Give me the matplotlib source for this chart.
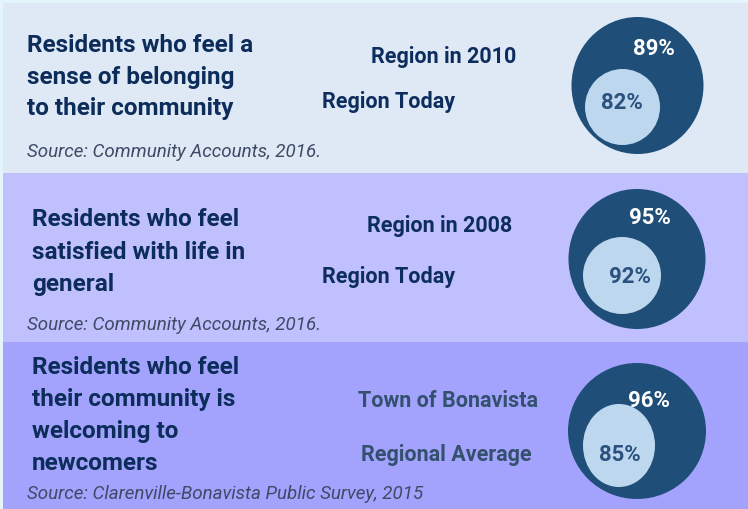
import matplotlib.pyplot as plt
from matplotlib.patches import Ellipse, Rectangle

# ---- data ----
titles = [
    "Residents who feel a\nsense of belonging\nto their community",
    "Residents who feel\nsatisfied with life in\ngeneral",
    "Residents who feel\ntheir community is\nwelcoming to\nnewcomers",
]
outer_labels = ["Region in 2010", "Region in 2008", "Town of Bonavista"]
inner_labels = ["Region Today", "Region Today", "Regional Average"]
outer_values = [89, 95, 96]
inner_values = [82, 92, 85]
sources = [
    "Source: Community Accounts, 2016.",
    "Source: Community Accounts, 2016.",
    "Source: Clarenville-Bonavista Public Survey, 2015",
]

# ---- layout (pixel units, y downward) ----
W, H = 748, 510
panel_top = [4, 174, 343]
panel_bot = [174, 343, 510]
panel_col = ["#dee9f5", "#c0c0fe", "#a3a3fd"]
title_y = [46, 220, 368]
title_x = [27, 32, 32]
title_step = [31.5, 32.5, 32]
outer_lab_xy = [(444, 57), (440, 226), (448, 401)]
inner_lab_xy = [(389, 102), (389, 277), (446, 455)]
outer_ell = [(637.5, 86.5, 132, 137), (637, 260, 137, 140), (637, 432, 138, 136)]
inner_ell = [(622.5, 108, 75, 76), (622, 276.5, 78, 77), (619, 446.5, 72, 83)]
outer_pct_xy = [(654, 49), (650, 218), (649, 401)]
inner_pct_xy = [(622, 103), (630, 277), (620, 455)]
source_y = [152, 325, 494]
label_col = ["#0d2d5e", "#0d2d5e", "#34506f"]

NAVY = "#0c2c5a"
DARK = "#1f4e79"
LIGHT = "#bdd7ee"

plt.rcParams["font.family"] = ["Roboto", "DejaVu Sans"]

fig = plt.figure(figsize=(W / 100, H / 100), dpi=100)
fig.patch.set_facecolor("#e4f4fb")
ax = fig.add_axes([0, 0, 1, 1])
ax.set_xlim(0, W)
ax.set_ylim(H, 0)
ax.axis("off")

for i in range(3):
    ax.add_patch(Rectangle((3, panel_top[i]), W - 3, panel_bot[i] - panel_top[i],
                           color=panel_col[i], lw=0))
    for j, line in enumerate(titles[i].split("\n")):
        ax.text(title_x[i], title_y[i] + j * title_step[i], line, fontsize=17.5,
                fontweight="bold", color=NAVY, va="center", ha="left")
    ax.text(*outer_lab_xy[i], outer_labels[i], fontsize=15.5, fontweight="bold",
            color=label_col[i], ha="center", va="center")
    ax.text(*inner_lab_xy[i], inner_labels[i], fontsize=15.5, fontweight="bold",
            color=label_col[i], ha="center", va="center")
    cx, cy, w, h = outer_ell[i]
    ax.add_patch(Ellipse((cx, cy), w, h, color=DARK, lw=0))
    cx, cy, w, h = inner_ell[i]
    ax.add_patch(Ellipse((cx, cy), w, h, color=LIGHT, lw=0))
    ax.text(*outer_pct_xy[i], f"{outer_values[i]}%", fontsize=16, fontweight="bold",
            color="white", ha="center", va="center")
    ax.text(*inner_pct_xy[i], f"{inner_values[i]}%", fontsize=16, fontweight="bold",
            color="#2b527f", ha="center", va="center")
    ax.text(27, source_y[i], sources[i], fontsize=13.5, style="italic",
            color="#3e4a66", ha="left", va="center")

fig.savefig("out.png", dpi=100, facecolor=fig.get_facecolor())
